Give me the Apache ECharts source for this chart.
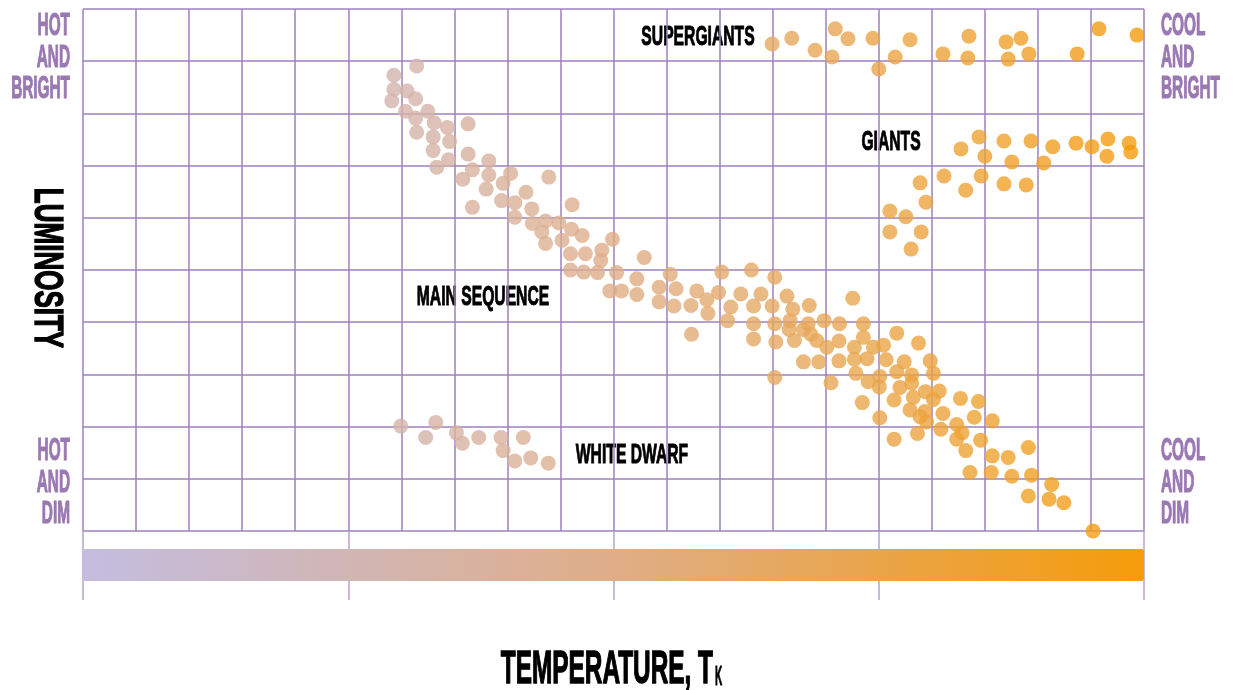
<!DOCTYPE html>
<html>
<head>
<meta charset="utf-8">
<script src="https://cdn.jsdelivr.net/npm/echarts@6/dist/echarts.min.js"></script>
<style>
html, body { margin: 0; padding: 0; background: #fff; }
#hr { width: 1237px; height: 690px; }
</style>
</head>
<body>
<div id="hr"></div>
<script>
// temperature in grid columns (0 = hottest, 20 = coolest), luminosity in grid rows (0 = dim, 10 = bright)
const tempRange = [0, 20];
const lumRange = [0, 10];

const supergiants = [
  [12.99, 9.33], [13.36, 9.44], [13.80, 9.21], [14.18, 9.62], [14.12, 9.08],
  [14.42, 9.43], [14.89, 9.44], [15.00, 8.85], [15.31, 9.08], [15.59, 9.41],
  [16.21, 9.14], [16.70, 9.48], [16.68, 9.06], [17.40, 9.37], [17.44, 9.04],
  [17.68, 9.44], [17.83, 9.14], [18.74, 9.14], [19.15, 9.62], [19.87, 9.50]
];

const giants = [
  [15.21, 6.13], [15.21, 5.73], [15.51, 6.02], [15.61, 5.40], [15.80, 5.73],
  [15.89, 6.30], [15.78, 6.67], [16.23, 6.80], [16.55, 7.32], [16.64, 6.53],
  [16.89, 7.55], [17.00, 7.18], [16.93, 6.80], [17.36, 7.47], [17.51, 7.07],
  [17.36, 6.65], [17.78, 6.63], [17.87, 7.47], [18.11, 7.05], [18.28, 7.36],
  [18.72, 7.43], [19.02, 7.36], [19.32, 7.51], [19.30, 7.18], [19.72, 7.43],
  [19.75, 7.26]
];

const mainSequence = [
  [6.29, 8.91], [5.86, 8.73], [5.86, 8.46], [6.11, 8.43], [5.82, 8.24],
  [6.27, 8.28], [6.08, 8.04], [6.50, 8.04], [6.27, 7.91], [6.62, 7.82],
  [6.87, 7.73], [7.26, 7.80], [6.29, 7.64], [6.60, 7.55], [6.91, 7.46],
  [6.60, 7.29], [7.26, 7.22], [6.89, 7.11], [6.67, 6.97], [7.65, 7.09],
  [7.34, 6.92], [7.65, 6.82], [7.16, 6.74], [8.06, 6.85], [7.92, 6.66],
  [7.60, 6.55], [8.78, 6.78], [8.35, 6.49], [7.89, 6.33], [8.14, 6.29],
  [7.34, 6.20], [8.46, 6.17], [8.14, 6.01], [8.47, 5.89], [8.72, 5.94],
  [8.97, 5.90], [9.22, 6.25], [8.65, 5.73], [9.21, 5.78], [9.41, 5.66],
  [8.72, 5.51], [9.03, 5.57], [9.98, 5.59], [9.19, 5.31], [9.47, 5.31],
  [9.78, 5.38], [9.76, 5.18], [9.19, 5.00], [9.44, 4.96], [9.70, 4.95],
  [10.06, 4.95], [10.58, 5.24], [10.44, 4.83], [11.07, 4.92], [12.04, 4.96],
  [12.60, 5.00], [13.04, 4.86], [9.93, 4.60], [10.15, 4.60], [10.44, 4.53],
  [10.86, 4.67], [11.18, 4.64], [10.86, 4.39], [11.14, 4.31], [11.46, 4.32],
  [11.57, 4.60], [11.76, 4.43], [11.98, 4.57], [11.78, 4.17], [12.21, 4.29],
  [12.40, 4.54], [12.78, 4.54], [12.64, 4.31], [12.15, 4.03], [12.99, 4.31],
  [13.27, 4.50], [13.38, 4.25], [13.69, 4.32], [12.64, 3.97], [13.04, 3.97],
  [13.33, 4.03], [13.67, 3.97], [13.97, 4.03], [13.31, 3.86], [13.58, 3.86],
  [14.26, 3.97], [14.71, 3.97], [14.51, 4.46], [11.47, 3.77], [12.64, 3.68],
  [13.06, 3.62], [13.41, 3.65], [13.72, 3.77], [13.83, 3.65], [14.02, 3.52],
  [14.25, 3.64], [14.71, 3.71], [14.54, 3.52], [14.90, 3.52], [15.09, 3.56],
  [15.34, 3.79], [15.75, 3.60], [13.58, 3.24], [13.87, 3.24], [14.25, 3.26],
  [14.54, 3.29], [14.78, 3.30], [15.14, 3.28], [15.48, 3.24], [15.97, 3.26],
  [13.04, 2.94], [14.10, 2.84], [14.57, 3.02], [14.80, 2.86], [15.02, 2.96],
  [15.01, 2.76], [15.34, 3.05], [15.40, 2.75], [15.62, 2.99], [15.62, 2.83],
  [16.03, 3.02], [16.14, 2.68], [15.88, 2.67], [15.65, 2.56], [16.03, 2.52],
  [15.29, 2.51], [14.69, 2.46], [15.59, 2.32], [15.87, 2.29], [15.78, 2.19],
  [15.90, 2.09], [16.21, 2.25], [16.54, 2.54], [16.88, 2.48], [16.80, 2.18],
  [17.14, 2.11], [15.02, 2.17], [15.73, 1.87], [15.29, 1.76], [16.17, 1.95],
  [16.47, 2.04], [16.57, 1.88], [16.47, 1.76], [16.92, 1.74], [16.64, 1.54],
  [17.14, 1.44], [17.44, 1.41], [17.82, 1.60], [16.72, 1.12], [17.12, 1.12],
  [17.51, 1.05], [17.88, 1.07], [17.82, 0.67], [18.21, 0.61], [18.26, 0.89],
  [18.49, 0.54], [19.04, 0.00]
];

const whiteDwarfs = [
  [5.99, 2.01], [6.65, 2.08], [6.46, 1.79], [7.04, 1.88], [7.15, 1.68],
  [7.46, 1.79], [7.88, 1.79], [8.30, 1.79], [7.92, 1.54], [8.14, 1.34],
  [8.44, 1.40], [8.77, 1.30]
];

const groupLabels = ['SUPERGIANTS', 'GIANTS', 'MAIN SEQUENCE', 'WHITE DWARF'];
const cornerLabels = ['HOT\nAND\nBRIGHT', 'COOL\nAND\nBRIGHT', 'HOT\nAND\nDIM', 'COOL\nAND\nDIM'];
const gradientColors = ['#c3bde0', '#dfae88', '#f59c0a'];

const gridColor = '#9e80bc';
const cornerColor = '#9a78b2';

var chart = echarts.init(document.getElementById('hr'));

// condensed heavy lettering: bold face squeezed horizontally + thin outline
function label(text, x, y, opts) {
  var o = opts || {};
  return {
    type: 'text',
    x: x,
    y: y,
    scaleX: o.scaleX || 0.56,
    rotation: o.rotation || 0,
    silent: true,
    style: {
      text: text,
      fill: o.color || '#000',
      stroke: o.color || '#000',
      lineWidth: o.lineWidth || 1,
      font: 'bold ' + (o.size || 28) + 'px "Liberation Sans", Arial, sans-serif',
      lineHeight: o.lineHeight,
      align: o.align || 'center',
      verticalAlign: 'middle',
      textAlign: o.align || 'center',
      textVerticalAlign: 'middle'
    }
  };
}

function corner(text, x, y, align) {
  return label(text, x, y, {
    color: cornerColor, size: 32, scaleX: 0.48, lineHeight: 31.5, lineWidth: 1.2, align: align
  });
}

var dotStyle = {
  type: 'scatter',
  symbolSize: 15,
  silent: true,
  emphasis: { disabled: true }
};

var option = {
  animation: false,
  grid: { left: 83, top: 9, right: 93, bottom: 159 },
  xAxis: [
    {
      type: 'value',
      min: tempRange[0],
      max: tempRange[1],
      interval: 1,
      axisLine: { show: false },
      axisTick: { show: false },
      axisLabel: { show: false },
      splitLine: { show: true, lineStyle: { color: gridColor, width: 1.5 } }
    },
    {
      type: 'value',
      min: tempRange[0],
      max: tempRange[1],
      interval: 5,
      position: 'bottom',
      axisLine: { show: false },
      axisTick: { show: true, length: 69, lineStyle: { color: '#b7a2cf', width: 1.5 } },
      axisLabel: { show: false },
      splitLine: { show: false }
    }
  ],
  yAxis: {
    type: 'value',
    min: lumRange[0],
    max: lumRange[1],
    interval: 1,
    axisLine: { show: false },
    axisTick: { show: false },
    axisLabel: { show: false },
    splitLine: { show: true, lineStyle: { color: gridColor, width: 1.5 } }
  },
  visualMap: {
    type: 'continuous',
    dimension: 0,
    min: tempRange[0],
    max: tempRange[1],
    orient: 'horizontal',
    left: 83,
    top: 549,
    padding: 0,
    itemWidth: 32,
    itemHeight: 1061,
    calculable: false,
    hoverLink: false,
    text: null,
    inRange: { color: gradientColors }
  },
  series: [
    Object.assign({ name: 'Supergiants', data: supergiants }, dotStyle),
    Object.assign({ name: 'Giants', data: giants }, dotStyle),
    Object.assign({ name: 'Main sequence', data: mainSequence }, dotStyle),
    Object.assign({ name: 'White dwarfs', data: whiteDwarfs }, dotStyle)
  ],
  graphic: [
    label(groupLabels[0], 698, 37),
    label(groupLabels[1], 891, 142),
    label(groupLabels[2], 483, 297),
    label(groupLabels[3], 632, 455),
    corner(cornerLabels[0], 70, 58, 'right'),
    corner(cornerLabels[1], 1161, 58, 'left'),
    corner(cornerLabels[2], 70, 483, 'right'),
    corner(cornerLabels[3], 1161, 483, 'left'),
    label('LUMINOSITY', 46, 268, { rotation: -Math.PI / 2, scaleX: 0.65, size: 40, lineWidth: 1.4 }),
    label('TEMPERATURE, T', 713, 670, { scaleX: 0.53, size: 46, lineWidth: 1.4, align: 'right' }),
    label('K', 715, 677, { scaleX: 0.36, size: 28, align: 'left' })
  ]
};

chart.setOption(option);
</script>
</body>
</html>
